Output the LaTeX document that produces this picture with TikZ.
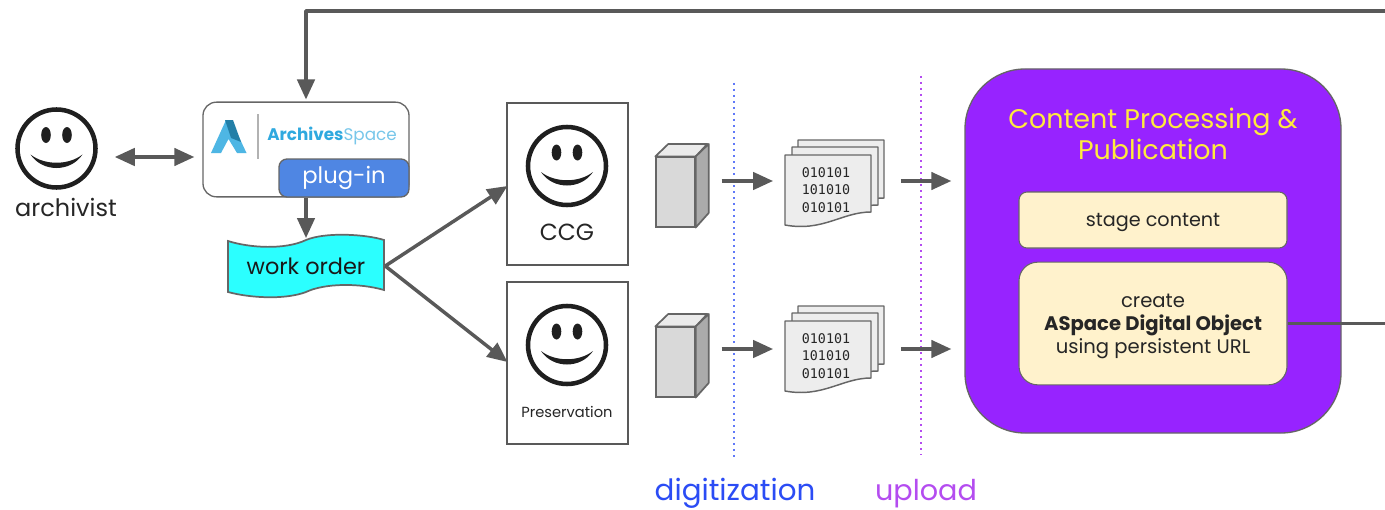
\documentclass[tikz,border=0pt]{standalone}
\usepackage{fontspec}
\setmainfont{Poppins}
\newfontfamily\monofnt{DejaVu Sans Mono}
\usetikzlibrary{arrows.meta,calc}
\definecolor{ln}{HTML}{595959}
\definecolor{edge}{HTML}{666666}
\definecolor{purp}{HTML}{9723FF}
\definecolor{cream}{HTML}{FFF2CC}
\definecolor{yel}{HTML}{FFEB3C}
\definecolor{bluelbl}{HTML}{2B4CF5}
\definecolor{purlbl}{HTML}{B44CF0}
\definecolor{plug}{HTML}{4F86E3}
\definecolor{aspace}{HTML}{2FA9DF}
\definecolor{cyanfill}{HTML}{2BFFFF}
\tikzset{
  x=.75pt,y=-.75pt,
  arr/.style={draw=ln,line width=2.6pt,-{Triangle[length=15pt,width=13pt]}},
  biarr/.style={draw=ln,line width=2.6pt,{Triangle[length=15pt,width=13pt]}-{Triangle[length=15pt,width=13pt]}},
  plain/.style={draw=ln,line width=2.6pt},
  face/.style={circle,draw=black!88,line width=3.4pt,minimum size=58.5pt,inner sep=0pt},
  framebox/.style={draw=black!65,line width=.8pt,minimum width=90.75pt,minimum height=121.5pt,inner sep=0pt},
  cream box/.style={draw=edge,line width=.8pt,fill=cream,minimum width=201pt,inner sep=0pt},
  cream text/.style={inner sep=0pt,align=center,text=black!85},
  cube front/.style={draw=edge,line width=1.3pt,fill=black!15,minimum width=29pt,minimum height=52pt,inner sep=0pt},
  dotline/.style={line width=1.4pt,dash pattern=on 1.3pt off 3.2pt},
  sheet/.style={draw=edge,line width=1.1pt,fill=black!7,line join=round},
  lbl/.style={inner sep=0pt},
  bits/.style={inner sep=0pt,align=center,font=\monofnt\fontsize{10}{13.2}\selectfont,text=black!85,minimum width=64pt,minimum height=52pt},
}
\newcommand{\happyface}[1]{%
  \fill[black!88] ($(#1)+(-10.5,-13.5)$) ellipse [x radius=4.8,y radius=8];
  \fill[black!88] ($(#1)+(10.5,-13.5)$) ellipse [x radius=4.8,y radius=8];
  \fill[black!88] ($(#1)+(-26,6)$) .. controls ($(#1)+(-12,17)$) and ($(#1)+(12,17)$) .. ($(#1)+(26,6)$)
     .. controls ($(#1)+(14,24)$) and ($(#1)+(-14,24)$) .. cycle;}
\newcommand{\sheetstack}[1]{%
  \foreach \dx/\dy in {13/-15,7/-8}{%
    \path[sheet] ($(#1)+(-43+\dx,-26+\dy)$) -- ($(#1)+(43+\dx,-26+\dy)$) -- ($(#1)+(43+\dx,32+\dy)$)
      .. controls ($(#1)+(20+\dx,32+\dy)$) and ($(#1)+(0+\dx,44+\dy)$) .. ($(#1)+(-43+\dx,42+\dy)$) -- cycle;}
  \path[sheet] ($(#1)+(-43,-26)$) -- ($(#1)+(43,-26)$) -- ($(#1)+(43,31)$)
      .. controls ($(#1)+(14,31)$) and ($(#1)+(-5,51)$) .. ($(#1)+(-43,44)$) -- cycle;}
\newcommand{\cubesides}[1]{%
  \path[draw=edge,line width=1.3pt,fill=black!8,line join=round] (#1.north west) -- ++(13,-12.5) -- ++(39,0) -- ($(#1.north east)$) -- cycle;
  \path[draw=edge,line width=1.3pt,fill=black!33,line join=round] (#1.north east) -- ++(13,-12.5) -- ++(0,69) -- ($(#1.south east)$) -- cycle;}
\begin{document}
\begin{tikzpicture}
\useasboundingbox (0,0) rectangle (1385,510);
\fill[white] (0,0) rectangle (1385,510);
% dotted guides
\draw[dotline,draw=bluelbl!75] (734,83) -- (734,460);
\draw[dotline,draw=purlbl] (921,76) -- (921,455);
% archivist
\node[face] (archivist) at (56.5,148.5) {};
\happyface{archivist}
\node[lbl,font=\fontsize{18}{20}\selectfont,text=black!85] (archlbl) at (66,207) {archivist};
% ArchivesSpace box
\node[draw=edge,line width=1pt,fill=white,rounded corners=10pt,minimum width=154.5pt,minimum height=71pt,inner sep=0pt] (as) at (306,149.5) {};
\fill[aspace!85] (211,153) -- (226,120) -- (231,120) -- (246.5,153) -- (237,153) -- (228.5,139) -- (221,153) -- cycle;
\fill[aspace!75!black] (225,120) -- (233,120) -- (241,142) -- (231,138) -- cycle;
\draw[black!30,line width=.8pt] (258,114) -- (258,159);
\node[inner sep=0pt,text=aspace,font=\fontsize{12.6}{15}\selectfont] (aslbl) at (332,136) {\textbf{Archives}\textcolor{aspace!65}{Space}};
\node[draw=edge,line width=1pt,fill=plug,rounded corners=6pt,minimum width=97.5pt,minimum height=28.5pt,inner sep=0pt,text=white,font=\fontsize{17}{19}\selectfont] (plugin) at (344,178) {\raisebox{-1.2pt}{plug-in}};
% work order
\path[draw=edge,line width=1.3pt,fill=cyanfill] (228,241) .. controls (250,248) and (285,250) .. (306,240)
  .. controls (325,232) and (365,234) .. (384,240) -- (384,290)
  .. controls (360,283) and (325,283) .. (306,292) .. controls (285,300) and (250,298) .. (228,292) -- cycle;
\node[inner sep=0pt,text=black!90,font=\fontsize{16.8}{18}\selectfont,minimum width=117pt,minimum height=46pt] (work) at (306,266) {work order};
% operators
\node[framebox] (ccg) at (567.5,184) {};
\node[framebox] (pres) at (567.5,363) {};
\node[face] (ccgface) at (567,166) {};
\happyface{ccgface}
\node[lbl,font=\fontsize{17.5}{20}\selectfont,text=black!85] (ccglbl) at (567,232) {CCG};
\node[face] (presface) at (567,345) {};
\happyface{presface}
\node[lbl,font=\fontsize{11}{13}\selectfont,text=black!85] (preslbl) at (567,412) {Preservation};
% cubes
\node[cube front] (cubea) at (675.5,192) {};
\cubesides{cubea}
\node[cube front] (cubeb) at (675.5,362) {};
\cubesides{cubeb}
% documents
\coordinate (sa) at (828,181);
\coordinate (sb) at (828,347);
\sheetstack{sa}
\sheetstack{sb}
\node[bits] (doca) at (826,190) {010101\\101010\\010101};
\node[bits] (docb) at (826,356) {010101\\101010\\010101};
% processing
\node[draw=edge,line width=1pt,fill=purp,rounded corners=45pt,minimum width=282pt,minimum height=273pt,inner sep=0pt] (proc) at (1153,251) {};
\node[inner sep=0pt,align=center,text=yel,font=\fontsize{20.2}{23.2}\selectfont] (title) at (1153,133.5) {Content Processing \&\\Publication};
\node[cream box,rounded corners=6pt,minimum height=42pt] (stage) at (1153,220) {};
\node[cream text,font=\fontsize{14.4}{15}\selectfont] (stagelbl) at (1153,222.5) {stage content};
\node[cream box,rounded corners=14pt,minimum height=92pt] (create) at (1153,323.5) {};
\node[cream text,font=\fontsize{14.7}{17.2}\selectfont] (createlbl) at (1153,326.5) {create\\\textbf{ASpace Digital Object}\\using persistent URL};
% connectors
\coordinate (topright) at (1385,11);
\coordinate (exit) at (1385,323.5);
\draw[arr,line join=round] (topright) -| ([shift={(0,-2)}]as.north);
\draw[plain] (create.east) -- (exit);
\draw[biarr] ([shift={(17,8.5)}]archivist.east) -- ([shift={(-8,7.5)}]as.west);
\draw[arr] (as.south) -- ([shift={(0,3)}]work.north);
\draw[arr] ([shift={(1,0)}]work.east) -- ([shift={(1,2)}]ccg.west);
\draw[arr] ([shift={(1,0)}]work.east) -- ([shift={(1,-1)}]pres.west);
\draw[arr] ([shift={(26,-11)}]cubea.east) -- ([shift={(-10,-9)}]doca.west);
\draw[arr] ([shift={(26,-13)}]cubeb.east) -- ([shift={(-10,-7)}]docb.west);
\draw[arr] ([shift={(32,-9)}]doca.east) -- ([shift={(-13,-70)}]proc.west);
\draw[arr] ([shift={(32,-7)}]docb.east) -- ([shift={(-13,98)}]proc.west);
% bands
\node[lbl,font=\fontsize{22}{24}\selectfont,text=bluelbl] (digit) at (735,493.5) {digitization};
\node[lbl,font=\fontsize{21.5}{24}\selectfont,text=purlbl] (upl) at (926,493.5) {upload};
\end{tikzpicture}
\end{document}
